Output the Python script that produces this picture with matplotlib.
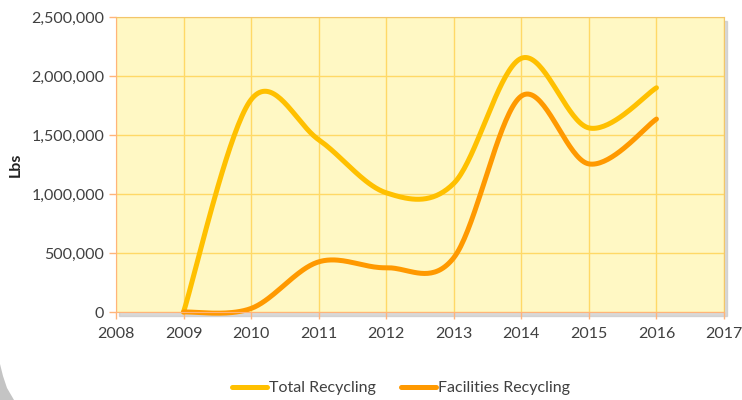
import numpy as np
import matplotlib.pyplot as plt
from matplotlib.patches import Polygon, Rectangle
from matplotlib.ticker import FuncFormatter

years = [2009, 2010, 2011, 2012, 2013, 2014, 2015, 2016]
total = [0, 1800000, 1460000, 1010000, 1090000, 2150000, 1560000, 1900000]
facilities = [0, 30000, 425000, 375000, 460000, 1830000, 1255000, 1635000]

plt.rcParams['font.family'] = ['Lato', 'DejaVu Sans']


def smooth(x, y, n=40):
    # excel-like smoothed line: cubic bezier with catmull-rom control points
    x = np.asarray(x, float)
    y = np.asarray(y, float)
    xs, ys = [], []
    for i in range(len(x) - 1):
        p0 = np.array([x[max(i - 1, 0)], y[max(i - 1, 0)]])
        p1 = np.array([x[i], y[i]])
        p2 = np.array([x[i + 1], y[i + 1]])
        p3 = np.array([x[min(i + 2, len(x) - 1)], y[min(i + 2, len(x) - 1)]])
        c1 = p1 + (p2 - p0) / 6
        c2 = p2 - (p3 - p1) / 6
        t = np.linspace(0, 1, n)[:, None]
        pts = (1 - t) ** 3 * p1 + 3 * (1 - t) ** 2 * t * c1 + 3 * (1 - t) * t ** 2 * c2 + t ** 3 * p2
        xs.extend(pts[:, 0])
        ys.extend(pts[:, 1])
    return xs, ys


W, H = 742, 400
fig = plt.figure(figsize=(W / 100, H / 100), dpi=100)
ax = fig.add_axes([116 / W, 1 - 312 / H, (724 - 116) / W, (312 - 17) / H])

# shadow behind the plot area
fig.patches.append(Rectangle((119 / W, 1 - 316 / H), (724 - 116) / W, (312 - 17) / H,
                             transform=fig.transFigure, color='#c8c8c8', alpha=0.7, zorder=-1))
# grey shape in the bottom-left corner
corner = [(0, 0), (0, 36), (3, 24), (7, 12), (14, 0)]
fig.patches.append(Polygon([(px / W, py / H) for px, py in corner], closed=True,
                           transform=fig.transFigure, color='#c4c4c4', lw=0, zorder=-1))

ax.set_facecolor('#fff8c4')
ax.set_xlim(2008, 2017)
ax.set_ylim(0, 2500000)
ax.set_xticks(range(2008, 2018))
ax.set_yticks(range(0, 2500001, 500000))
ax.yaxis.set_major_formatter(FuncFormatter(lambda v, p: f'{int(v):,}'))
ax.grid(True, color='#ffd966', lw=1.0)
ax.set_axisbelow(True)
for s in ['top', 'right']:
    ax.spines[s].set_color('#f2c66a')
    ax.spines[s].set_linewidth(0.8)
ax.spines['left'].set_color('#ffb47a')
ax.spines['bottom'].set_color('#ffb47a')
ax.tick_params(colors='#ffb47a', labelcolor='#404040', labelsize=11.5, length=5, width=1)
ax.tick_params(axis='x', pad=6)

tx, ty = smooth(years, total)
fx, fy = smooth(years, facilities)
ax.plot(tx, ty, color='#ffc000', lw=3.6, solid_capstyle='round', label='Total Recycling', clip_on=False)
ax.plot(fx, fy, color='#ff9900', lw=3.6, solid_capstyle='round', label='Facilities Recycling', clip_on=False)

ax.set_ylabel('Lbs', fontweight='bold', fontsize=11.5, color='#222222', labelpad=6)

fig.legend(loc='center', bbox_to_anchor=(401 / W, 1 - 388 / H), ncol=2, frameon=False,
           fontsize=11.5, handlelength=2.2, handletextpad=0.1, columnspacing=1.6, labelcolor='#404040')

fig.savefig('out.png', dpi=100)
